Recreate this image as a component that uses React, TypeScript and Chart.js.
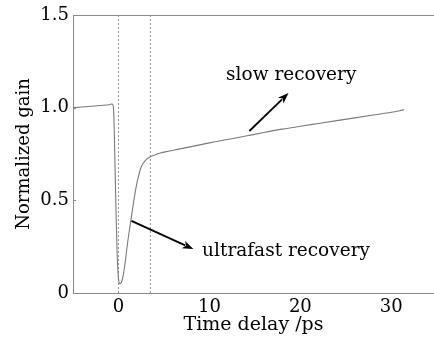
import React, { useEffect, useRef } from 'react';
import { Chart, registerables } from 'chart.js';

Chart.register(...registerables);

// Measured trace (time delay in ps, normalized gain)
const timeDelay = [
  -5, -4, -3, -2, -1, -0.7, -0.55, -0.45, -0.35, -0.25, -0.15, -0.05, 0.05, 0.15, 0.3,
  0.5, 0.75, 1.0, 1.3, 1.6, 1.9, 2.2, 2.5, 2.8, 3.1, 3.5, 4.0, 4.6, 5.5, 6.5, 8, 10, 12,
  14, 16, 18, 20, 22, 24, 26, 28, 30, 31.4,
];
const gain = [
  1.0, 1.004, 1.008, 1.012, 1.016, 1.02, 1.0, 0.85, 0.62, 0.4, 0.22, 0.11, 0.06, 0.05, 0.055,
  0.09, 0.17, 0.27, 0.37, 0.47, 0.56, 0.63, 0.68, 0.705, 0.722, 0.735, 0.745, 0.755, 0.765, 0.775, 0.79, 0.81, 0.828,
  0.847, 0.866, 0.884, 0.9, 0.915, 0.93, 0.945, 0.96, 0.975, 0.988,
];
const markerTimes = [0, 3.5];
const xTickValues = [0, 10, 20, 30];
const yTickValues = [0, 0.5, 1.0, 1.5];
const xRange = [-5, 34.7];
const yRange = [0, 1.5];

const annotationTexts = ['slow recovery', 'ultrafast recovery'];
const arrowFrom = [
  [14.4, 0.874],
  [1.43, 0.389],
];
const arrowTo = [
  [18.7, 1.079],
  [8.24, 0.237],
];
const labelAt = [
  [19.0, 1.176],
  [9.2, 0.227],
];
const labelAlign: CanvasTextAlign[] = ['center', 'left'];

const FONT = "'DejaVu Serif', 'Liberation Serif', serif";
const AXIS_COLOR = '#8a8a8a';

const overlayPlugin = {
  id: 'overlay',
  afterDatasetsDraw(chart: any) {
    const { ctx, chartArea, scales } = chart;
    const xs = scales.x;
    const ys = scales.y;
    ctx.save();
    // top frame line
    ctx.strokeStyle = AXIS_COLOR;
    ctx.lineWidth = 1;
    ctx.beginPath();
    ctx.moveTo(chartArea.left, chartArea.top + 0.5);
    ctx.lineTo(chartArea.right, chartArea.top + 0.5);
    ctx.stroke();
    // inward y ticks
    yTickValues.forEach((v) => {
      const py = Math.round(ys.getPixelForValue(v)) + 0.5;
      ctx.beginPath();
      ctx.moveTo(chartArea.left, py);
      ctx.lineTo(chartArea.left + 3, py);
      ctx.stroke();
    });
    // arrows
    ctx.strokeStyle = '#000';
    ctx.fillStyle = '#000';
    ctx.lineWidth = 1.8;
    for (let i = 0; i < arrowFrom.length; i++) {
      const x1 = xs.getPixelForValue(arrowFrom[i][0]);
      const y1 = ys.getPixelForValue(arrowFrom[i][1]);
      const x2 = xs.getPixelForValue(arrowTo[i][0]);
      const y2 = ys.getPixelForValue(arrowTo[i][1]);
      const ang = Math.atan2(y2 - y1, x2 - x1);
      const headLen = 11;
      const headW = 4;
      const bx = x2 - headLen * Math.cos(ang);
      const by = y2 - headLen * Math.sin(ang);
      ctx.beginPath();
      ctx.moveTo(x1, y1);
      ctx.lineTo(bx + 2 * Math.cos(ang), by + 2 * Math.sin(ang));
      ctx.stroke();
      ctx.beginPath();
      ctx.moveTo(x2, y2);
      ctx.lineTo(bx + headW * Math.sin(ang), by - headW * Math.cos(ang));
      ctx.lineTo(bx + 3 * Math.cos(ang), by + 3 * Math.sin(ang));
      ctx.lineTo(bx - headW * Math.sin(ang), by + headW * Math.cos(ang));
      ctx.closePath();
      ctx.fill();
    }
    // labels
    ctx.font = `18.5px ${FONT}`;
    ctx.fillStyle = '#000';
    ctx.textBaseline = 'middle';
    for (let i = 0; i < annotationTexts.length; i++) {
      ctx.textAlign = labelAlign[i];
      ctx.fillText(
        annotationTexts[i],
        xs.getPixelForValue(labelAt[i][0]),
        ys.getPixelForValue(labelAt[i][1])
      );
    }
    ctx.restore();
  },
};

export default function App() {
  const canvasRef = useRef<HTMLCanvasElement | null>(null);

  useEffect(() => {
    document.body.style.margin = '0';
    const canvas = canvasRef.current;
    if (!canvas) return;
    const traceData = timeDelay.map((t, i) => ({ x: t, y: gain[i] }));
    const markerSets = markerTimes.map((t) => ({
      data: [
        { x: t, y: yRange[0] },
        { x: t, y: yRange[1] },
      ],
      borderColor: '#777',
      borderWidth: 0.8,
      borderDash: [2, 2],
      pointRadius: 0,
      tension: 0,
    }));
    const chart = new Chart(canvas, {
      type: 'line',
      data: {
        datasets: [
          {
            data: traceData,
            borderColor: '#7a7a7a',
            borderWidth: 1.1,
            pointRadius: 0,
            cubicInterpolationMode: 'monotone',
          },
          ...markerSets,
        ],
      },
      options: {
        animation: false,
        responsive: false,
        devicePixelRatio: 1,
        layout: { padding: { top: 15, right: 0, left: 0, bottom: 0 } },
        plugins: {
          legend: { display: false },
          tooltip: { enabled: false },
        },
        scales: {
          x: {
            type: 'linear',
            min: xRange[0],
            max: xRange[1],
            grid: { display: false, drawTicks: false },
            border: { display: true, color: AXIS_COLOR, width: 1 },
            afterBuildTicks: (scale: any) => {
              scale.ticks = xTickValues.map((v) => ({ value: v }));
            },
            afterFit: (scale: any) => {
              scale.height = 44;
            },
            ticks: {
              color: '#000',
              font: { family: FONT, size: 18 },
              padding: 4,
              maxRotation: 0,
              callback: (v: any) => String(v),
            },
            title: {
              display: true,
              text: 'Time delay /ps',
              color: '#000',
              font: { family: FONT, size: 19 },
              padding: { top: 0, bottom: 1 },
            },
          },
          y: {
            type: 'linear',
            min: yRange[0],
            max: yRange[1],
            grid: { display: false, drawTicks: false },
            border: { display: true, color: AXIS_COLOR, width: 1 },
            afterBuildTicks: (scale: any) => {
              scale.ticks = yTickValues.map((v) => ({ value: v }));
            },
            afterFit: (scale: any) => {
              scale.width = 73;
            },
            ticks: {
              color: '#000',
              font: { family: FONT, size: 18 },
              padding: 4,
              callback: (v: any) => (v === 0 ? '0' : Number(v).toFixed(1)),
            },
            title: {
              display: true,
              text: 'Normalized gain',
              color: '#000',
              font: { family: FONT, size: 18 },
              padding: { top: 14, bottom: 0 },
            },
          },
        },
      },
      plugins: [overlayPlugin],
    });
    return () => chart.destroy();
  }, []);

  return (
    <div style={{ width: 434, height: 337, position: 'relative', background: '#fff' }}>
      <canvas ref={canvasRef} width={434} height={337} style={{ display: 'block' }} />
    </div>
  );
}
